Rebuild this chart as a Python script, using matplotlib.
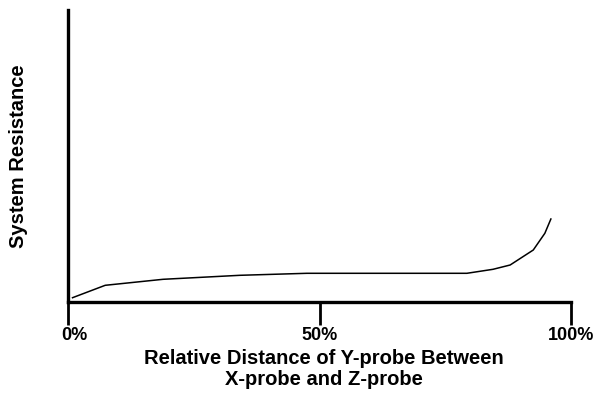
import matplotlib
matplotlib.use("Agg")
import matplotlib.pyplot as plt
from matplotlib.transforms import ScaledTranslation

# distance of Y-probe (% of X-Z spacing) and relative system resistance
distance = [0.9, 7.4, 18.9, 34.2, 47.5, 79.3, 84.5, 87.9, 92.5, 94.8, 96.0]
resistance = [4.3, 16.7, 22.7, 26.7, 28.7, 28.7, 32.7, 37, 52, 68.7, 83]
tick_pos = [0, 50, 100]
tick_labels = ["0%", "50%", "100%"]

plt.rcParams['font.family'] = ['Liberation Sans', 'DejaVu Sans']
plt.rcParams['font.weight'] = 'bold'

fig = plt.figure(figsize=(6.02, 3.94), dpi=100)
ax = fig.add_axes([68/602, 92/394, 503/602, 292/394])

ax.plot(distance, resistance, color='black', lw=1.1)

ax.set_xlim(0, 100)
ax.set_ylim(0, 292)
ax.spines['top'].set_visible(False)
ax.spines['right'].set_visible(False)
ax.spines['left'].set_linewidth(2.4)
ax.spines['bottom'].set_linewidth(2.4)
ax.spines['bottom'].set_capstyle('projecting')
ax.set_yticks([])
ax.set_xticks(tick_pos)
ax.set_xticklabels(tick_labels, fontsize=13, fontweight='bold')
ax.tick_params(axis='x', length=16.5, width=2, pad=1.5)
# first label sits a little right of its tick
lab0 = ax.get_xticklabels()[0]
lab0.set_transform(lab0.get_transform() + ScaledTranslation(6/100, 0, fig.dpi_scale_trans))

ax.set_xlabel("Relative Distance of Y-probe Between\nX-probe and Z-probe",
              fontsize=14.5, fontweight='bold', linespacing=1.1)
ax.xaxis.set_label_coords(0.509, -0.161)
ax.set_ylabel("System Resistance", fontsize=14.5, fontweight='bold')
ax.yaxis.set_label_coords(-0.079, 0.5)

fig.savefig("out.png", dpi=100)
